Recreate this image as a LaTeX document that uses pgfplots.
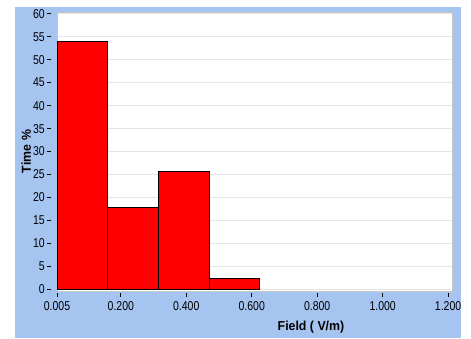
\documentclass[border=0pt]{standalone}
\usepackage{fontspec}
\setmainfont[FakeStretch=0.82]{Liberation Sans}
\newfontfamily\lblfont[FakeStretch=0.95]{Liberation Sans}
\usepackage{pgfplots}
\pgfplotsset{compat=1.18}
\definecolor{bgblue}{RGB}{166,196,240}
\begin{document}
\begin{tikzpicture}[x=1bp,y=1bp]
\fill[white] (0,0) rectangle (471,338);
\fill[bgblue] (15,0) rectangle (461,331);
\begin{axis}[
  at={(57bp,47bp)}, anchor=south west, scale only axis,
  width=395bp, height=279bp,
  xmin=0.005, xmax=1.212, ymin=-0.33, ymax=60.37,
  axis background/.style={fill=white},
  axis line style={draw=gray!45, line width=0.8bp},
  xtick={0.005,0.2,0.4,0.6,0.8,1.0,1.2},
  xticklabels={0.005,0.200,0.400,0.600,0.800,1.000,1.200},
  ytick={0,5,...,60},
  xtick pos=bottom, ytick pos=left,
  tick align=outside,
  major tick length=4.5bp,
  tick style={black, line width=0.8bp},
  xtick style={yshift=-1.7bp},
  ytick style={xshift=-6bp},
  ymajorgrids, grid style={gray!20, line width=1.5bp},
  /pgf/number format/assume math mode=true,
  every tick label/.append style={font=\fontsize{12.8bp}{14bp}\selectfont, inner sep=0pt},
  yticklabel style={anchor=east, xshift=-7.5bp},
  xticklabel style={anchor=north, yshift=-5.5bp},
  label style={font=\lblfont\bfseries\fontsize{13bp}{15bp}\selectfont},
  xlabel={Field ( V/m)},
  ylabel={Time \%},
  xlabel style={at={(axis description cs:0.643,-0.129)}, anchor=center},
  ylabel style={at={(axis description cs:-0.078,0.5)}, anchor=center},
]
\addplot[ybar interval, fill=red, draw=black, line width=0.9bp]
  coordinates {(0.005,54.0) (0.160,17.8) (0.315,25.7) (0.470,2.4) (0.625,2.4)};
\end{axis}
\end{tikzpicture}
\end{document}
